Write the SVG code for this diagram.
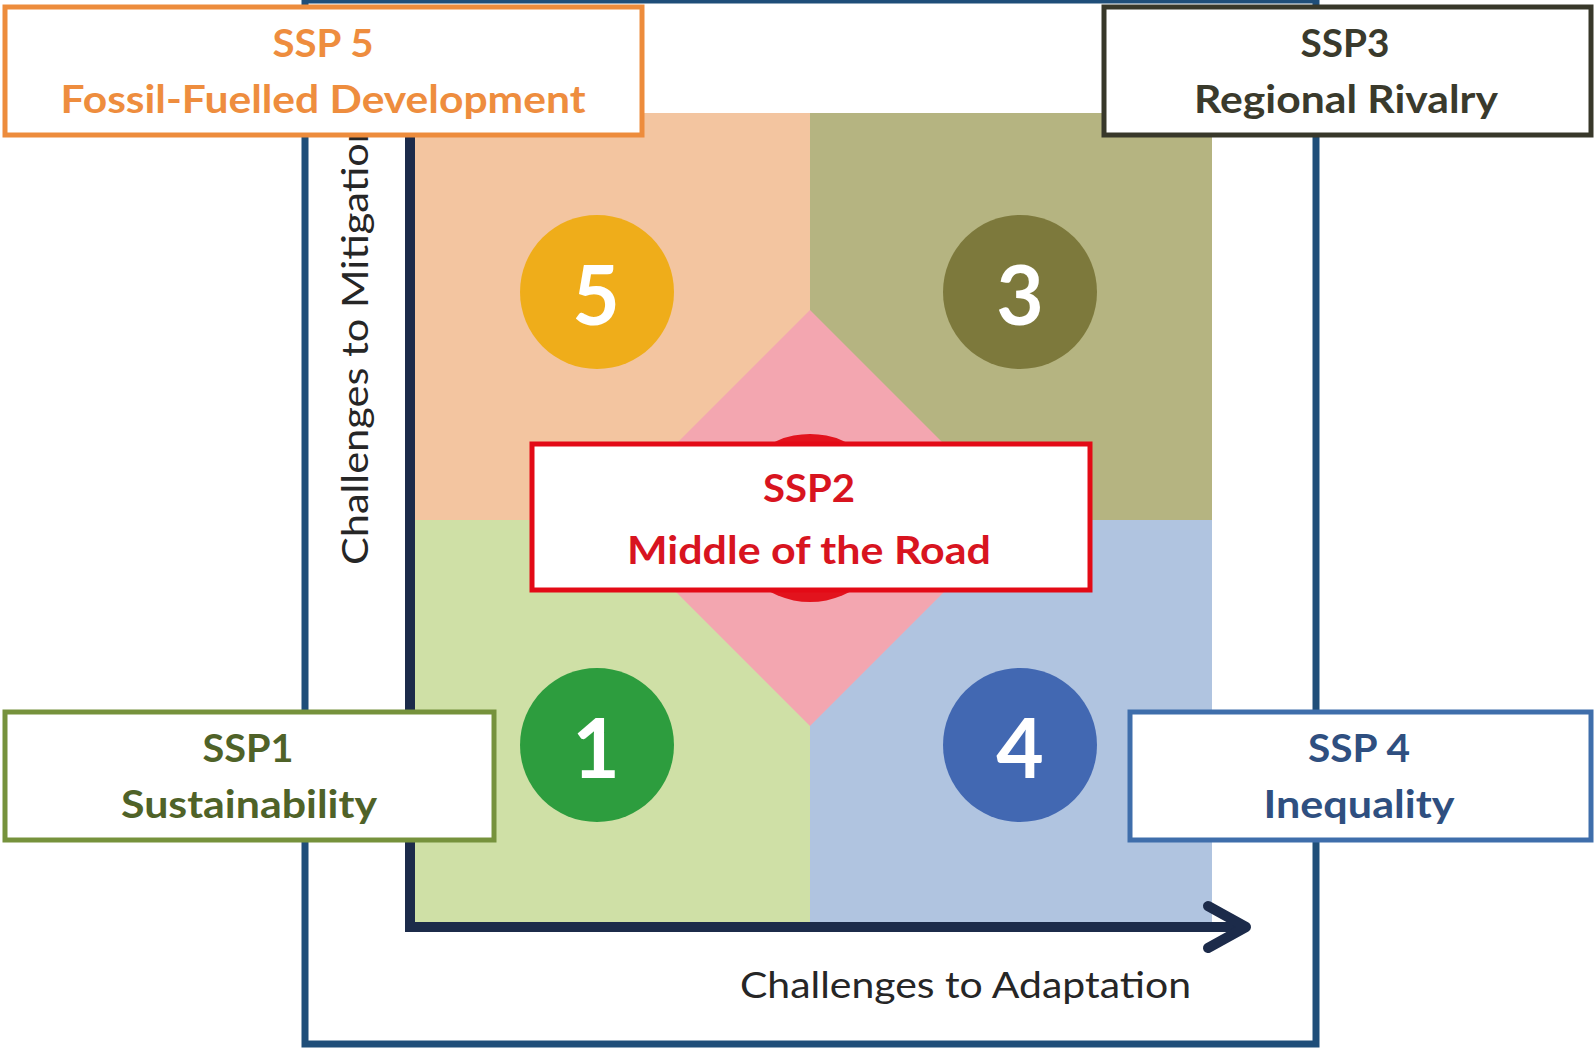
<svg xmlns="http://www.w3.org/2000/svg" width="1594" height="1050" viewBox="0 0 1594 1050">
  <style>
    .lbl { font-family: Lato, "Open Sans", "Liberation Sans", sans-serif; font-weight: 700; font-size: 39px; text-anchor: middle; }
    .axis-lbl { font-family: Lato, "Open Sans", "Liberation Sans", sans-serif; font-weight: 400; font-size: 36px; fill: #262626; }
    .num { font-family: Lato, "Open Sans", "Liberation Sans", sans-serif; font-weight: 700; font-size: 82px; fill: #ffffff; text-anchor: middle; }
    .box { fill: #ffffff; stroke-width: 5; }
    .axis { stroke: #1c2b4a; stroke-width: 10; fill: none; }
  </style>

  <rect width="1594" height="1050" fill="#ffffff"/>

  <!-- outer frame -->
  <rect id="frame" x="305" y="0" width="1011" height="1044" fill="none" stroke="#1f4e79" stroke-width="7"/>

  <!-- quadrant background -->
  <g id="quadrants">
    <rect x="410" y="113" width="400" height="407" fill="#f3c5a0"/>
    <rect x="810" y="113" width="402" height="407" fill="#b5b481"/>
    <rect x="410" y="520" width="400" height="407" fill="#cfe0a6"/>
    <rect x="810" y="520" width="402" height="407" fill="#b0c4e0"/>
    <polygon points="810,310 1018,518 810,726 602,518" fill="#f3a6b0"/>
  </g>

  <!-- axes -->
  <g id="connectors">
    <line class="axis" x1="410" y1="135" x2="410" y2="932"/>
    <line class="axis" x1="405" y1="927" x2="1244" y2="927"/>
    <polyline class="axis" points="1208,906 1246,927 1208,948" stroke-linecap="round" stroke-linejoin="round"/>
  </g>

  <text class="axis-lbl" transform="translate(368,565) rotate(-90)" textLength="445" lengthAdjust="spacingAndGlyphs">Challenges to Mitigation</text>
  <text class="axis-lbl" x="740" y="998" textLength="451" lengthAdjust="spacingAndGlyphs">Challenges to Adaptation</text>

  <!-- numbered circles -->
  <g id="c5"><circle cx="597" cy="292" r="77" fill="#efad1a"/><text class="num" x="596" y="325">5</text></g>
  <g id="c3"><circle cx="1020" cy="292" r="77" fill="#7d793c"/><text class="num" x="1020" y="325">3</text></g>
  <g id="c1"><circle cx="597" cy="745" r="77" fill="#2d9d3e"/><text class="num" x="596" y="778">1</text></g>
  <g id="c4"><circle cx="1020" cy="745" r="77" fill="#4268b2"/><text class="num" x="1020" y="778">4</text></g>
  <g id="c2"><circle cx="810" cy="518" r="84" fill="#e2131d"/></g>

  <!-- scenario labels -->
  <g id="ssp5">
    <rect class="box" x="5" y="7" width="637" height="128" stroke="#ed8c3c"/>
    <text class="lbl" x="323" y="57" fill="#ee8d3e" textLength="101" lengthAdjust="spacingAndGlyphs">SSP 5</text>
    <text class="lbl" x="323" y="113" fill="#ee8d3e" textLength="525" lengthAdjust="spacingAndGlyphs">Fossil-Fuelled Development</text>
  </g>
  <g id="ssp3">
    <rect class="box" x="1104" y="7" width="487" height="128" stroke="#38382a"/>
    <text class="lbl" x="1345" y="57" fill="#3a3a2c" textLength="89" lengthAdjust="spacingAndGlyphs">SSP3</text>
    <text class="lbl" x="1346" y="113" fill="#3a3a2c" textLength="304" lengthAdjust="spacingAndGlyphs">Regional Rivalry</text>
  </g>
  <g id="ssp2">
    <rect class="box" x="532" y="444" width="558" height="146" stroke="#e30a16" stroke-width="6"/>
    <text class="lbl" x="809" y="502" fill="#d8141f" textLength="92" lengthAdjust="spacingAndGlyphs">SSP2</text>
    <text class="lbl" x="809" y="564" fill="#d8141f" textLength="364" lengthAdjust="spacingAndGlyphs">Middle of the Road</text>
  </g>
  <g id="ssp1">
    <rect class="box" x="5" y="712" width="489" height="128" stroke="#76923c"/>
    <text class="lbl" x="248" y="762" fill="#4f6228" textLength="91" lengthAdjust="spacingAndGlyphs">SSP1</text>
    <text class="lbl" x="249" y="818" fill="#4f6228" textLength="256" lengthAdjust="spacingAndGlyphs">Sustainability</text>
  </g>
  <g id="ssp4">
    <rect class="box" x="1130" y="712" width="461" height="128" stroke="#3f6eab"/>
    <text class="lbl" x="1359" y="762" fill="#2f4f80" textLength="102" lengthAdjust="spacingAndGlyphs">SSP 4</text>
    <text class="lbl" x="1359" y="818" fill="#2f4f80" textLength="191" lengthAdjust="spacingAndGlyphs">Inequality</text>
  </g>
</svg>
